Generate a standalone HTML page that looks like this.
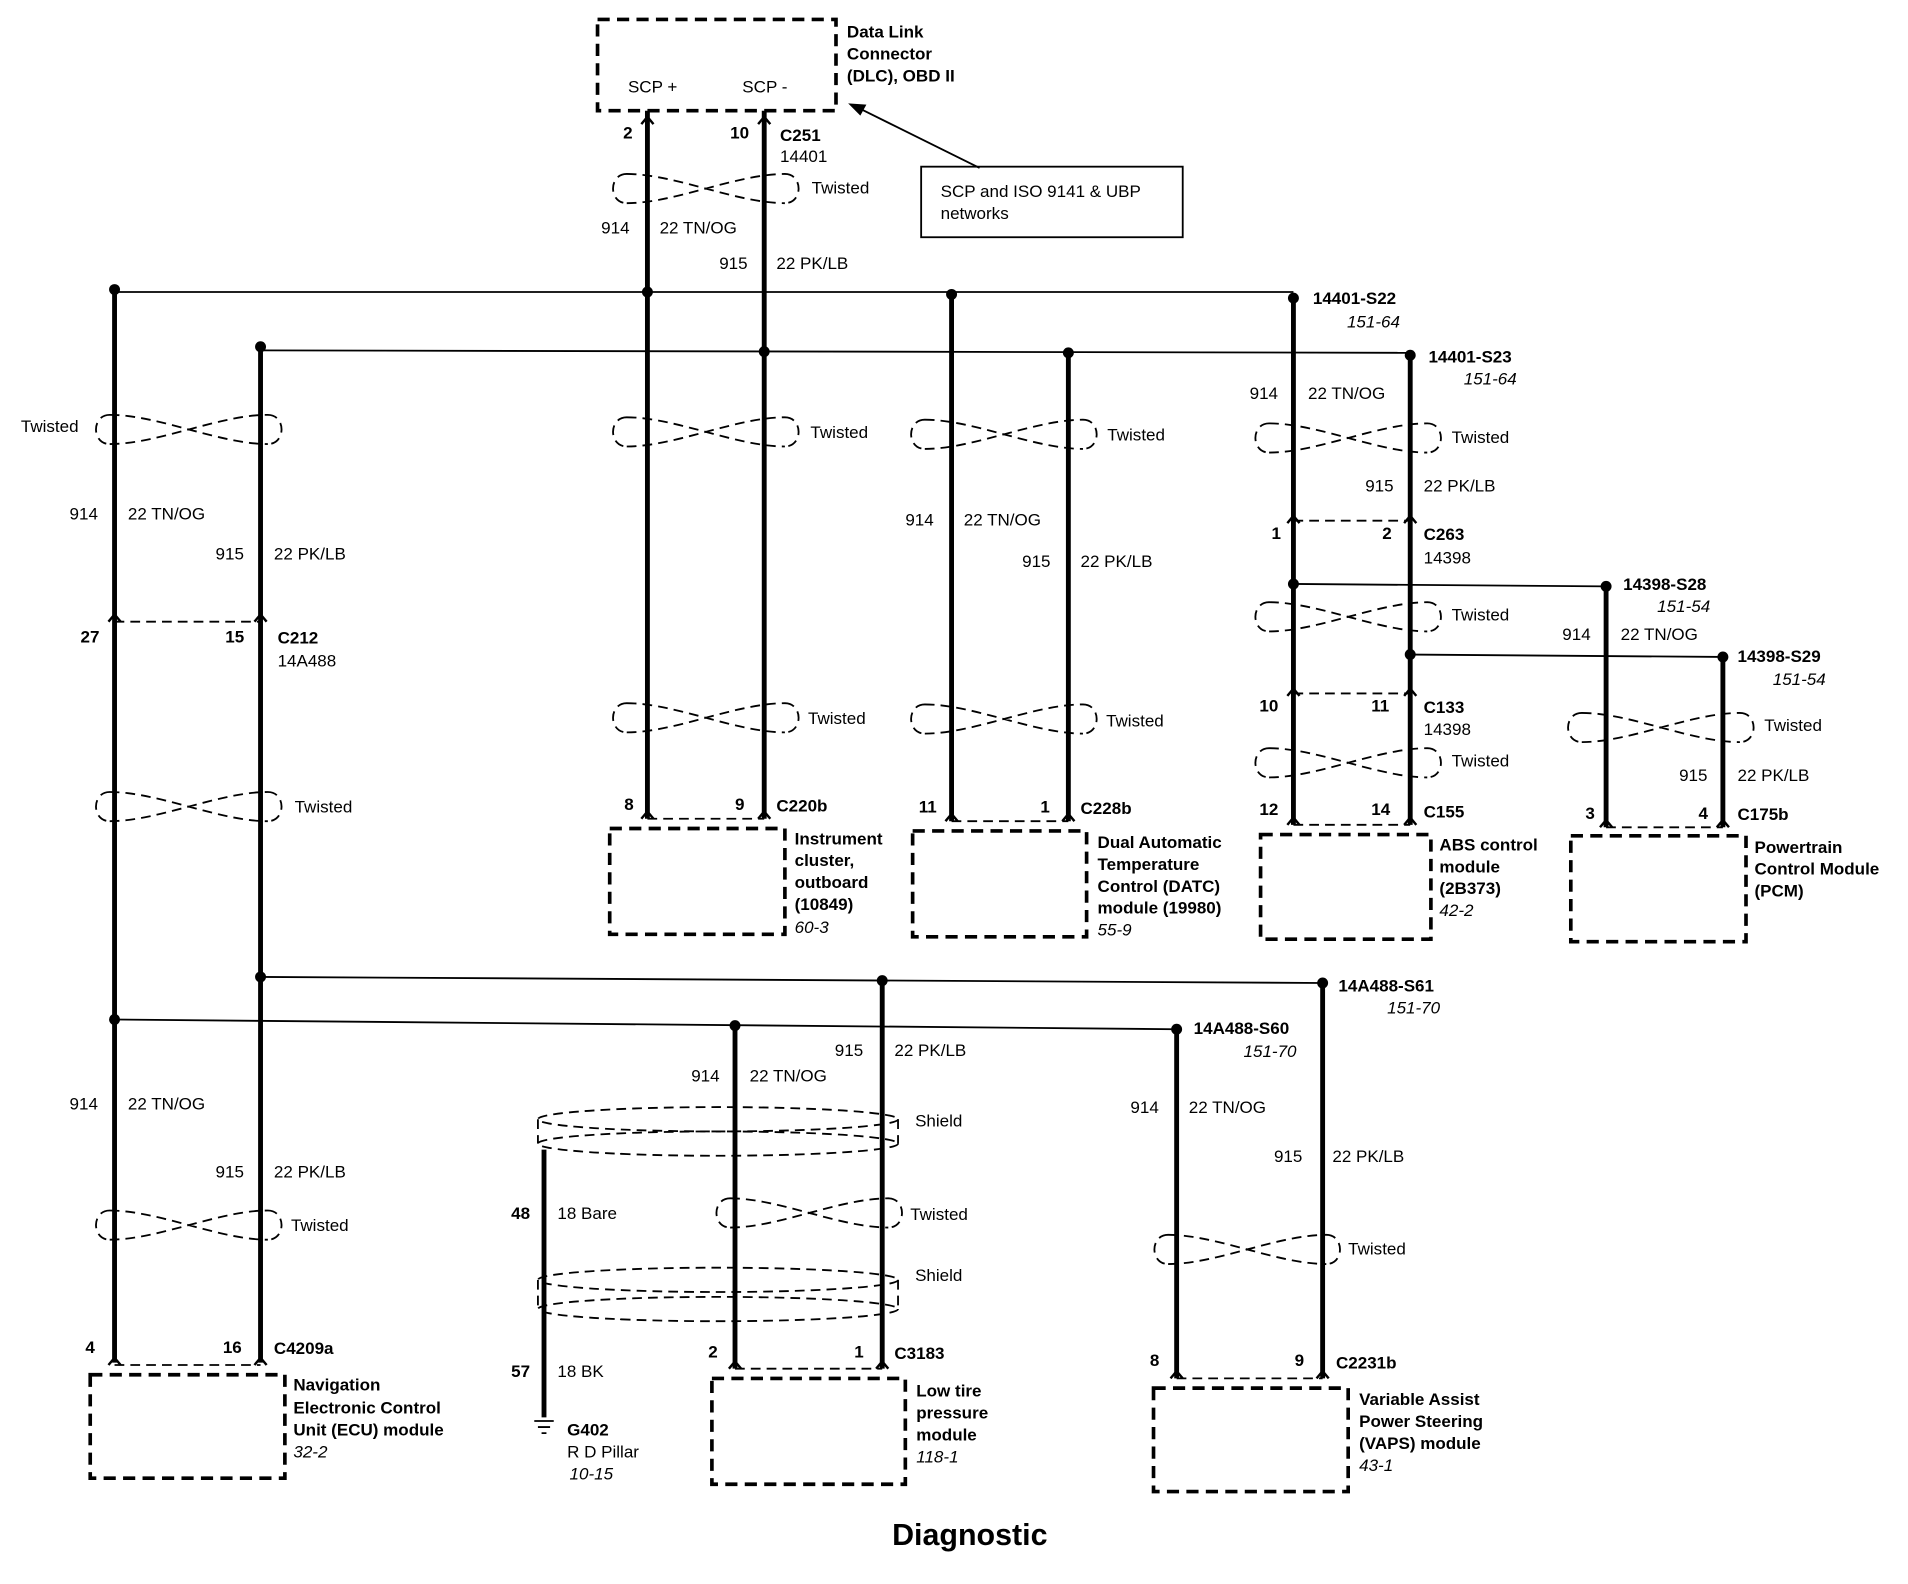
<!DOCTYPE html>
<html><head><meta charset="utf-8"><style>
html,body{margin:0;padding:0;background:#fff}
svg{display:block}
text{font-family:"Liberation Sans",sans-serif;font-size:14px;fill:#000}
.b{font-weight:bold}
.i{font-style:italic}
.w{stroke:#000;stroke-width:4;fill:none}
.t{stroke:#000;stroke-width:1.5;fill:none}
.d{stroke:#000;stroke-width:3;fill:none;stroke-dasharray:10 6}
.dl{stroke:#000;stroke-width:1.5;fill:none;stroke-dasharray:8 5}
</style></head><body>
<svg width="1908" height="1584" viewBox="0 0 1568 1302" xmlns="http://www.w3.org/2000/svg">
<defs>
<g id="tw"><path class="dl" d="M10,-12 C-5,-12 -5,12 10,12 M140,-12 C155,-12 155,12 140,12 M10,-12 C50,-12 100,12 140,12 M10,12 C50,12 100,-12 140,-12"/></g>
<g id="ch"><polyline class="t" points="-5,6 0,0 5,6" style="stroke-width:2"/></g>
</defs>

<!-- DLC -->
<rect class="d" x="491" y="16" width="196" height="75"/>
<text x="516" y="76">SCP +</text><text x="610" y="76">SCP -</text>
<text class="b" x="696" y="31">Data Link</text><text class="b" x="696" y="49">Connector</text><text class="b" x="696" y="67">(DLC), OBD II</text>
<line class="w" x1="532" y1="91" x2="532" y2="673"/><line class="w" x1="628" y1="91" x2="628" y2="673"/>
<use href="#ch" x="532" y="96"/><use href="#ch" x="628" y="96"/>
<text class="b" x="512" y="114">2</text><text class="b" x="600" y="114">10</text>
<text class="b" x="641" y="116">C251</text><text x="641" y="133">14401</text>
<line class="t" x1="805" y1="138" x2="702" y2="87"/><polygon points="697,85 712,86 707,95"/>
<rect class="t" x="757" y="137" width="215" height="58"/>
<text x="773" y="162">SCP and ISO 9141 &amp; UBP</text><text x="773" y="180">networks</text>
<use href="#tw" x="505" y="155"/><text x="667" y="159">Twisted</text>
<text x="494" y="192">914</text><text x="542" y="192">22  TN/OG</text>
<text x="591" y="221">915</text><text x="638" y="221">22  PK/LB</text>

<!-- buses -->
<line class="t" x1="94" y1="240" x2="1063" y2="240"/>
<line class="t" x1="214" y1="288" x2="1159" y2="290"/>
<g fill="#000"><circle cx="94" cy="238" r="4.5"/><circle cx="532" cy="240" r="4.5"/><circle cx="782" cy="242" r="4.5"/><circle cx="1063" cy="245" r="4.5"/>
<circle cx="214" cy="285" r="4.5"/><circle cx="628" cy="289" r="4.5"/><circle cx="878" cy="290" r="4.5"/><circle cx="1159" cy="292" r="4.5"/></g>
<text class="b" x="1079" y="250">14401-S22</text><text class="i" x="1107" y="269">151-64</text>
<text class="b" x="1174" y="298">14401-S23</text><text class="i" x="1203" y="316">151-64</text>

<!-- left -->
<line class="w" x1="94" y1="240" x2="94" y2="1120"/><line class="w" x1="214" y1="286" x2="214" y2="1120"/>
<use href="#tw" x="80" y="353"/><text x="17" y="355">Twisted</text>
<text x="57" y="427">914</text><text x="105" y="427">22  TN/OG</text>
<text x="177" y="460">915</text><text x="225" y="460">22  PK/LB</text>
<line class="dl" x1="94" y1="511" x2="214" y2="511"/><use href="#ch" x="94" y="505"/><use href="#ch" x="214" y="505"/>
<text class="b" x="66" y="528">27</text><text class="b" x="185" y="528">15</text>
<text class="b" x="228" y="529">C212</text><text x="228" y="548">14A488</text>
<use href="#tw" x="80" y="663"/><text x="242" y="668">Twisted</text>
<line class="t" x1="94" y1="838" x2="967" y2="846"/>
<line class="t" x1="214" y1="803" x2="1087" y2="808"/>
<g fill="#000"><circle cx="94" cy="838" r="4.5"/><circle cx="604" cy="843" r="4.5"/><circle cx="967" cy="846" r="4.5"/>
<circle cx="214" cy="803" r="4.5"/><circle cx="725" cy="806" r="4.5"/><circle cx="1087" cy="808" r="4.5"/></g>
<text class="b" x="1100" y="815">14A488-S61</text><text class="i" x="1140" y="833">151-70</text>
<text class="b" x="981" y="850">14A488-S60</text><text class="i" x="1022" y="869">151-70</text>
<text x="57" y="912">914</text><text x="105" y="912">22  TN/OG</text>
<text x="177" y="968">915</text><text x="225" y="968">22  PK/LB</text>
<use href="#tw" x="80" y="1007"/><text x="239" y="1012">Twisted</text>
<line class="dl" x1="94" y1="1122" x2="214" y2="1122"/><use href="#ch" x="94" y="1116"/><use href="#ch" x="214" y="1116"/>
<text class="b" x="70" y="1112">4</text><text class="b" x="183" y="1112">16</text><text class="b" x="225" y="1113">C4209a</text>
<rect class="d" x="74" y="1130" width="160" height="85"/>
<text class="b" x="241" y="1143">Navigation</text><text class="b" x="241" y="1162">Electronic Control</text><text class="b" x="241" y="1180">Unit (ECU) module</text><text class="i" x="241" y="1198">32-2</text>

<!-- instrument -->
<use href="#tw" x="505" y="355"/><text x="666" y="360">Twisted</text>
<use href="#tw" x="505" y="590"/><text x="664" y="595">Twisted</text>
<line class="dl" x1="532" y1="673" x2="628" y2="673"/><use href="#ch" x="532" y="667"/><use href="#ch" x="628" y="667"/>
<text class="b" x="513" y="666">8</text><text class="b" x="604" y="666">9</text><text class="b" x="638" y="667">C220b</text>
<rect class="d" x="501" y="681" width="144" height="87"/>
<text class="b" x="653" y="694">Instrument</text><text class="b" x="653" y="712">cluster,</text><text class="b" x="653" y="730">outboard</text><text class="b" x="653" y="748">(10849)</text><text class="i" x="653" y="767">60-3</text>

<!-- DATC -->
<line class="w" x1="782" y1="242" x2="782" y2="675"/><line class="w" x1="878" y1="290" x2="878" y2="675"/>
<use href="#tw" x="750" y="357"/><text x="910" y="362">Twisted</text>
<text x="744" y="432">914</text><text x="792" y="432">22  TN/OG</text>
<text x="840" y="466">915</text><text x="888" y="466">22  PK/LB</text>
<use href="#tw" x="750" y="591"/><text x="909" y="597">Twisted</text>
<line class="dl" x1="782" y1="675" x2="878" y2="675"/><use href="#ch" x="782" y="669"/><use href="#ch" x="878" y="669"/>
<text class="b" x="755" y="668">11</text><text class="b" x="855" y="668">1</text><text class="b" x="888" y="669">C228b</text>
<rect class="d" x="750" y="683" width="143" height="87"/>
<text class="b" x="902" y="697">Dual Automatic</text><text class="b" x="902" y="715">Temperature</text><text class="b" x="902" y="733">Control (DATC)</text><text class="b" x="902" y="751">module (19980)</text><text class="i" x="902" y="769">55-9</text>

<!-- ABS -->
<line class="w" x1="1063" y1="245" x2="1063" y2="678"/><line class="w" x1="1159" y1="292" x2="1159" y2="678"/>
<text x="1027" y="328">914</text><text x="1075" y="328">22  TN/OG</text>
<use href="#tw" x="1033" y="360"/><text x="1193" y="364">Twisted</text>
<text x="1122" y="404">915</text><text x="1170" y="404">22  PK/LB</text>
<line class="dl" x1="1063" y1="428" x2="1159" y2="428"/><use href="#ch" x="1063" y="424"/><use href="#ch" x="1159" y="424"/>
<text class="b" x="1045" y="443">1</text><text class="b" x="1136" y="443">2</text><text class="b" x="1170" y="444">C263</text><text x="1170" y="463">14398</text>
<line class="t" x1="1063" y1="480" x2="1320" y2="482"/>
<line class="t" x1="1159" y1="538" x2="1416" y2="540"/>
<g fill="#000"><circle cx="1063" cy="480" r="4.5"/><circle cx="1320" cy="482" r="4.5"/><circle cx="1159" cy="538" r="4.5"/><circle cx="1416" cy="540" r="4.5"/></g>
<use href="#tw" x="1033" y="507"/><text x="1193" y="510">Twisted</text>
<text class="b" x="1334" y="485">14398-S28</text><text class="i" x="1362" y="503">151-54</text>
<text class="b" x="1428" y="544">14398-S29</text><text class="i" x="1457" y="563">151-54</text>
<line class="dl" x1="1063" y1="570" x2="1159" y2="570"/><use href="#ch" x="1063" y="566"/><use href="#ch" x="1159" y="566"/>
<text class="b" x="1035" y="585">10</text><text class="b" x="1127" y="585">11</text><text class="b" x="1170" y="586">C133</text><text x="1170" y="604">14398</text>
<use href="#tw" x="1033" y="627"/><text x="1193" y="630">Twisted</text>
<line class="dl" x1="1063" y1="678" x2="1159" y2="678"/><use href="#ch" x="1063" y="672"/><use href="#ch" x="1159" y="672"/>
<text class="b" x="1035" y="670">12</text><text class="b" x="1127" y="670">14</text><text class="b" x="1170" y="672">C155</text>
<rect class="d" x="1036" y="686" width="140" height="86"/>
<text class="b" x="1183" y="699">ABS control</text><text class="b" x="1183" y="717">module</text><text class="b" x="1183" y="735">(2B373)</text><text class="i" x="1183" y="753">42-2</text>

<!-- PCM -->
<line class="w" x1="1320" y1="482" x2="1320" y2="680"/><line class="w" x1="1416" y1="540" x2="1416" y2="680"/>
<text x="1284" y="526">914</text><text x="1332" y="526">22  TN/OG</text>
<use href="#tw" x="1290" y="598"/><text x="1450" y="601">Twisted</text>
<text x="1380" y="642">915</text><text x="1428" y="642">22  PK/LB</text>
<line class="dl" x1="1320" y1="680" x2="1416" y2="680"/><use href="#ch" x="1320" y="674"/><use href="#ch" x="1416" y="674"/>
<text class="b" x="1303" y="673">3</text><text class="b" x="1396" y="673">4</text><text class="b" x="1428" y="674">C175b</text>
<rect class="d" x="1291" y="687" width="144" height="87"/>
<text class="b" x="1442" y="701">Powertrain</text><text class="b" x="1442" y="719">Control Module</text><text class="b" x="1442" y="737">(PCM)</text>

<!-- Low tire -->
<line class="w" x1="604" y1="843" x2="604" y2="1125"/><line class="w" x1="725" y1="806" x2="725" y2="1125"/>
<text x="686" y="868">915</text><text x="735" y="868">22  PK/LB</text>
<text x="568" y="889">914</text><text x="616" y="889">22  TN/OG</text>
<ellipse class="dl" cx="590" cy="920" rx="148" ry="10"/><ellipse class="dl" cx="590" cy="940" rx="148" ry="10"/>
<line class="dl" x1="442" y1="920" x2="442" y2="940"/><line class="dl" x1="738" y1="920" x2="738" y2="940"/>
<text x="752" y="926">Shield</text>
<ellipse class="dl" cx="590" cy="1052" rx="148" ry="10"/><ellipse class="dl" cx="590" cy="1076" rx="148" ry="10"/>
<line class="dl" x1="442" y1="1052" x2="442" y2="1076"/><line class="dl" x1="738" y1="1052" x2="738" y2="1076"/>
<text x="752" y="1053">Shield</text>
<line class="w" x1="447" y1="945" x2="447" y2="1165"/>
<path class="t" d="M439,1168 H455 M442,1173 H452 M445,1178 H449"/>
<text class="b" x="420" y="1002">48</text><text x="458" y="1002">18  Bare</text>
<text class="b" x="420" y="1132">57</text><text x="458" y="1132">18  BK</text>
<text class="b" x="466" y="1180">G402</text><text x="466" y="1198">R D Pillar</text><text class="i" x="468" y="1216">10-15</text>
<use href="#tw" x="590" y="997"/><text x="748" y="1003">Twisted</text>
<line class="dl" x1="604" y1="1125" x2="725" y2="1125"/><use href="#ch" x="604" y="1119"/><use href="#ch" x="725" y="1119"/>
<text class="b" x="582" y="1116">2</text><text class="b" x="702" y="1116">1</text><text class="b" x="735" y="1117">C3183</text>
<rect class="d" x="585" y="1133" width="159" height="87"/>
<text class="b" x="753" y="1148">Low tire</text><text class="b" x="753" y="1166">pressure</text><text class="b" x="753" y="1184">module</text><text class="i" x="753" y="1202">118-1</text>

<!-- VAPS -->
<line class="w" x1="967" y1="846" x2="967" y2="1133"/><line class="w" x1="1087" y1="808" x2="1087" y2="1133"/>
<text x="929" y="915">914</text><text x="977" y="915">22  TN/OG</text>
<text x="1047" y="955">915</text><text x="1095" y="955">22  PK/LB</text>
<use href="#tw" x="950" y="1027"/><text x="1108" y="1031">Twisted</text>
<line class="dl" x1="967" y1="1133" x2="1087" y2="1133"/><use href="#ch" x="967" y="1127"/><use href="#ch" x="1087" y="1127"/>
<text class="b" x="945" y="1123">8</text><text class="b" x="1064" y="1123">9</text><text class="b" x="1098" y="1125">C2231b</text>
<rect class="d" x="948" y="1141" width="160" height="85"/>
<text class="b" x="1117" y="1155">Variable Assist</text><text class="b" x="1117" y="1173">Power Steering</text><text class="b" x="1117" y="1191">(VAPS) module</text><text class="i" x="1117" y="1209">43-1</text>

<text class="b" x="797" y="1270" text-anchor="middle" style="font-size:25px">Diagnostic</text>
</svg>
</body></html>
